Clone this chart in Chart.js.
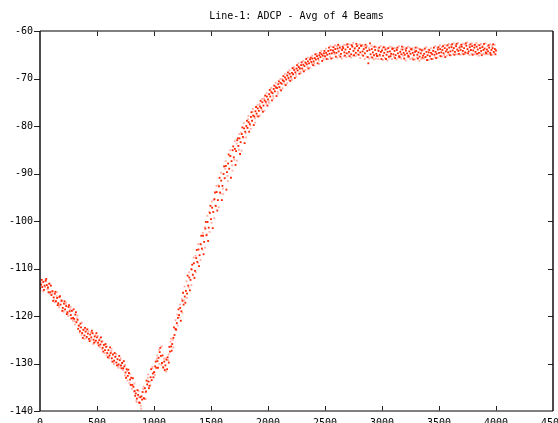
<!DOCTYPE html>
<html>
<head>
<meta charset="utf-8">
<script src="https://cdn.jsdelivr.net/npm/chart.js@4"></script>
<style>
html,body{margin:0;padding:0;background:#fff;overflow:hidden;width:558px;height:423px;}
canvas{display:block;}
</style>
</head>
<body>
<canvas id="c" width="558" height="426"></canvas>
<script>
const chartTitle = "Line-1: ADCP - Avg of 4 Beams";
const xTicks = [0, 500, 1000, 1500, 2000, 2500, 3000, 3500, 4000, 4500];
const yTicks = [-60, -70, -80, -90, -100, -110, -120, -130, -140];

// red samples: every 10 units starting at 0
const redStart = 0, redStep = 10;
const redValues = [
-114.2,-113.4,-113.9,-112.8,-113.6,-112.6,-113.5,-114.0,-113.2,-115.0,
-115.6,-114.8,-116.1,-115.3,-116.9,-116.2,-117.3,-116.0,-117.6,-116.8,
-118.3,-117.4,-118.6,-117.9,-119.2,-118.1,-119.0,-119.8,-118.9,-120.4,
-120.6,-119.7,-121.3,-120.8,-122.0,-123.2,-122.4,-123.6,-122.9,-124.1,
-123.3,-124.4,-123.7,-124.8,-123.9,-124.5,-123.6,-125.0,-124.3,-125.2,
-124.5,-125.6,-125.1,-126.0,-125.4,-126.7,-126.1,-127.2,-126.5,-127.8,
-127.2,-128.3,-127.8,-128.9,-128.1,-129.4,-128.6,-129.8,-129.1,-130.2,
-129.3,-130.4,-129.9,-131.0,-130.6,-131.9,-131.2,-132.6,-132.0,-133.4,
-133.0,-134.5,-134.9,-135.8,-136.3,-137.4,-136.6,-138.2,-137.1,-136.9,
-136.0,-137.3,-135.2,-135.9,-134.4,-133.8,-134.7,-132.9,-133.5,-132.1,
-131.8,-130.6,-130.9,-129.5,-128.8,-127.6,-128.4,-129.9,-130.8,-129.6,
-130.4,-129.2,-128.7,-129.8,-127.5,-126.4,-125.9,-124.6,-124.0,-122.7,
-121.5,-120.4,-119.8,-118.3,-119.0,-116.8,-117.6,-115.9,-114.7,-115.3,
-113.6,-111.9,-112.4,-110.2,-111.3,-108.9,-110.5,-107.8,-108.6,-106.0,
-107.2,-104.9,-105.8,-103.1,-104.4,-101.6,-103.0,-100.2,-101.4,-98.3,
-99.6,-97.2,-98.1,-95.4,-96.8,-93.9,-95.6,-92.7,-94.0,-91.5,
-92.6,-90.1,-91.0,-88.4,-89.7,-87.9,-89.0,-86.3,-87.4,-85.1,
-86.6,-84.8,-85.3,-83.0,-84.2,-82.6,-83.4,-81.7,-82.3,-80.5,
-81.2,-80.0,-80.4,-79.2,-79.6,-78.1,-78.9,-77.8,-78.0,-76.9,
-77.4,-76.3,-76.8,-75.9,-76.2,-75.0,-75.7,-74.6,-74.9,-73.8,
-74.4,-73.3,-73.8,-72.9,-73.1,-72.2,-72.7,-71.9,-72.0,-71.2,
-71.8,-70.9,-71.1,-70.4,-70.6,-69.8,-70.2,-69.4,-69.9,-69.0,
-69.6,-68.8,-69.1,-68.2,-68.7,-67.9,-68.3,-67.6,-67.9,-67.2,
-67.9,-67.1,-67.4,-66.7,-67.0,-66.4,-66.8,-66.0,-66.5,-65.8,
-66.4,-65.7,-66.0,-65.3,-65.8,-65.1,-65.5,-64.9,-65.2,-64.7,
-65.3,-64.6,-65.0,-64.2,-64.8,-64.0,-64.7,-64.1,-64.5,-63.8,
-64.6,-63.7,-64.3,-63.5,-64.8,-64.0,-63.6,-64.5,-63.9,-64.7,
-63.4,-64.4,-63.8,-64.9,-63.3,-64.2,-63.7,-64.6,-63.2,-64.1,
-63.6,-64.5,-63.1,-64.3,-63.8,-64.7,-63.5,-64.2,-66.8,-64.0,
-64.9,-63.8,-64.5,-65.1,-64.0,-64.8,-65.3,-64.2,-65.0,-64.4,
-64.1,-65.2,-64.6,-63.9,-65.0,-64.4,-65.4,-64.3,-64.8,-63.8,
-64.9,-64.2,-65.1,-64.0,-64.7,-65.3,-64.4,-64.9,-63.9,-64.6,
-65.0,-64.1,-64.7,-65.2,-64.3,-64.8,-63.9,-64.6,-65.1,-64.4,
-64.2,-65.0,-64.5,-65.4,-64.7,-64.1,-65.2,-64.8,-65.5,-64.4,
-65.1,-64.5,-65.3,-64.6,-64.9,-64.2,-65.0,-64.4,-64.8,-63.9,
-64.6,-63.8,-64.5,-64.0,-64.7,-63.6,-64.3,-63.9,-64.5,-63.5,
-64.3,-63.4,-64.1,-63.6,-64.4,-63.2,-63.9,-64.2,-63.5,-64.0,
-63.3,-64.2,-63.6,-64.5,-63.1,-63.8,-64.3,-63.4,-64.0,-63.2,
-64.1,-63.5,-64.4,-63.3,-63.9,-64.6,-63.6,-64.2,-63.4,-64.0,
-63.7,-64.5,-63.9,-64.3,-63.5,-64.6,-64.0,-63.6,-64.4,-63.8,
-64.1
];

// second red set: every 20 units starting at 15
const red2Start = 15, red2Step = 20;
const red2Values = [
-112.4,-114.5,-112.2,-115.0,-113.6,
-116.8,-114.9,-117.7,-115.8,-118.9,
-116.9,-119.6,-117.7,-120.5,-118.6,
-119.2,-122.7,-121.6,-124.6,-122.5,
-122.8,-125.3,-123.1,-125.6,-123.6,
-126.2,-124.5,-127.5,-125.9,-128.7,
-126.6,-129.6,-127.8,-130.4,-128.4,
-131.0,-129.5,-133.0,-131.3,-134.5,
-133.1,-136.8,-135.6,-138.3,-137.6,
-137.4,-133.6,-135.2,-131.2,-132.9,
-129.6,-130.9,-126.7,-128.3,-131.4,
-131.2,-126.5,-127.3,-122.4,-122.9,
-118.6,-121.0,-115.1,-117.2,-111.5,
-114.6,-109.2,-112.0,-106.1,-109.5,
-103.1,-107.0,-100.2,-104.2,-96.8,
-101.5,-94.0,-97.8,-90.9,-95.6,
-88.5,-93.4,-86.0,-90.9,-84.3,
-88.2,-82.6,-85.9,-80.3,-83.6,
-78.9,-81.2,-77.1,-79.8,-76.0,
-78.0,-74.7,-77.0,-73.6,-75.7,
-72.4,-74.6,-71.5,-73.7,-70.6,
-72.5,-69.5,-71.4,-68.7,-70.5,
-67.8,-69.9,-67.2,-69.0,-66.6,
-68.5,-65.9,-67.9,-65.6,-67.2,
-64.9,-66.8,-64.6,-66.3,-64.2,
-65.9,-63.5,-65.8,-63.4,-65.4,
-62.9,-65.4,-63.3,-65.2,-62.8,
-65.3,-63.0,-65.1,-62.7,-65.0,
-63.1,-65.2,-62.9,-65.5,-62.6,
-65.6,-63.3,-65.2,-63.5,-65.9,
-63.4,-65.9,-63.6,-65.3,-63.7,
-65.7,-63.5,-65.5,-63.3,-65.8,
-63.6,-65.4,-63.8,-66.0,-63.5,
-65.8,-63.9,-65.6,-63.7,-66.1,
-64.0,-65.9,-63.5,-65.7,-63.4,
-65.3,-63.2,-65.5,-63.0,-65.1,
-62.8,-65.0,-62.7,-64.8,-62.9,
-64.9,-62.6,-64.7,-62.8,-65.0,
-62.9,-64.8,-63.0,-65.1,-62.7,
-64.7,-63.0,-65.0,-62.8,-64.9
];

// pink samples: every 20 units starting at 5
const pinkStart = 5, pinkStep = 20;
const pinkValues = [
-114.6,-112.9,-113.9,-114.3,-115.3,
-114.7,-116.7,-115.8,-117.8,-116.9,
-118.9,-117.5,-119.5,-118.6,-120.6,
-121.1,-120.5,-122.2,-124.0,-122.9,
-124.7,-123.2,-125.0,-123.7,-125.5,
-125.8,-124.7,-127.0,-126.1,-128.3,
-128.6,-127.4,-129.7,-128.5,-130.5,
-130.6,-129.8,-132.5,-131.6,-134.1,
-134.6,-135.9,-137.8,-135.8,-138.9,
-135.4,-136.1,-133.0,-133.8,-130.7,
-131.9,-129.0,-127.1,-130.3,-131.0,
-128.9,-129.3,-125.4,-125.0,-122.8,
-119.7,-120.3,-116.4,-116.7,-112.7,
-114.0,-110.1,-111.5,-107.3,-108.8,
-104.8,-106.0,-101.3,-102.8,-98.1,
-100.4,-95.6,-96.9,-92.5,-94.2,
-93.2,-89.0,-90.5,-86.4,-88.3,
-87.1,-83.7,-85.0,-81.4,-82.5,
-81.5,-78.6,-79.9,-77.0,-78.4,
-77.9,-75.4,-76.6,-74.2,-75.3,
-74.8,-72.6,-73.7,-71.6,-72.8,
-72.3,-70.1,-71.2,-69.2,-70.3,
-70.0,-68.0,-69.1,-67.4,-68.6,
-68.3,-66.5,-67.6,-65.9,-66.9,
-66.8,-65.3,-66.2,-64.7,-65.8,
-65.6,-64.2,-65.4,-63.4,-64.9,
-63.2,-65.1,-63.8,-65.3,-63.0,
-64.8,-62.9,-65.2,-63.5,-64.9,
-62.8,-65.0,-63.3,-65.4,-63.6,
-65.5,-63.4,-65.8,-63.9,-65.3,
-63.6,-65.7,-63.8,-65.6,-63.4,
-65.4,-63.7,-65.6,-63.9,-65.2,
-63.8,-65.5,-63.5,-65.7,-64.0,
-65.6,-63.7,-65.9,-64.0,-65.4,
-63.9,-65.8,-64.1,-65.5,-63.6,
-65.2,-63.4,-65.1,-63.1,-64.9,
-63.0,-64.8,-62.9,-64.9,-63.2,
-64.7,-62.8,-64.6,-63.0,-64.8,
-63.0,-64.9,-62.9,-64.7,-63.1,
-64.9,-63.2,-64.8,-63.1,-64.6
];

// second pink set: every 20 units starting at 8
const pink2Start = 8, pink2Step = 20;
const pink2Values = [
-113.0,-114.8,-112.3,-114.4,-113.2,
-115.3,-117.1,-115.0,-118.2,-116.6,
-119.1,-117.2,-120.0,-118.1,-121.0,
-121.8,-119.9,-123.5,-121.4,-124.8,
-122.9,-124.9,-123.4,-125.9,-124.0,
-124.2,-126.6,-125.3,-127.8,-126.4,
-128.9,-126.9,-130.1,-128.0,-130.9,
-128.9,-131.4,-130.3,-133.6,-132.2,
-135.3,-134.2,-138.1,-137.0,-139.5,
-134.9,-137.5,-132.3,-134.6,-131.0,
-132.4,-128.3,-130.1,-126.4,-129.0,
-131.7,-128.1,-124.8,-126.6,-120.9,
-122.0,-117.6,-119.3,-113.8,-116.2,
-110.8,-113.5,-107.7,-110.8,-104.9,
-108.2,-102.5,-105.6,-98.9,-102.3,
-95.9,-99.4,-92.6,-97.1,-89.8,
-94.3,-87.4,-91.6,-85.1,-89.4,
-83.2,-87.3,-81.7,-85.2,-79.4,
-82.4,-77.9,-80.6,-76.4,-79.3,
-75.6,-77.8,-74.3,-76.8,-73.1,
-75.1,-72.0,-74.2,-70.9,-73.2,
-70.1,-72.1,-69.0,-71.0,-68.3,
-70.3,-67.6,-69.6,-66.8,-68.9,
-66.3,-68.2,-65.6,-67.7,-65.2,
-67.3,-64.8,-66.9,-64.2,-66.0,
-63.7,-65.9,-63.2,-65.7,-63.0,
-65.6,-63.1,-65.8,-62.9,-65.5,
-62.8,-65.6,-62.5,-65.3,-63.0,
-65.7,-62.9,-65.9,-63.2,-65.8,
-63.1,-66.0,-63.4,-65.9,-63.2,
-66.1,-63.5,-66.2,-63.3,-65.9,
-63.6,-66.0,-63.2,-65.8,-63.4,
-66.2,-63.3,-65.9,-63.6,-66.0,
-63.5,-66.3,-63.9,-65.8,-63.4,
-66.1,-63.6,-65.9,-63.2,-65.6,
-63.0,-65.4,-62.9,-65.2,-62.7,
-65.1,-62.6,-64.9,-62.5,-65.0,
-62.7,-64.8,-62.4,-65.1,-62.6,
-64.9,-62.5,-65.2,-62.7,-64.8,
-62.6,-64.9,-62.8,-65.0,-62.9
];

const toPoints = (vals, start, step) => vals.map((v, i) => ({x: start + i * step, y: v}));
const redPoints = toPoints(redValues, redStart, redStep);
const red2Points = toPoints(red2Values, red2Start, red2Step);
const pinkPoints = toPoints(pinkValues, pinkStart, pinkStep);
const pink2Points = toPoints(pink2Values, pink2Start, pink2Step);

const FONT = "'DejaVu Sans Mono', 'Liberation Mono', monospace";
const RED = 'rgb(255,36,0)';
const PINK = 'rgb(255,172,162)';

const framePlugin = {
  id: 'frame',
  afterDraw(chart) {
    const ctx = chart.ctx, a = chart.chartArea;
    const xs = chart.scales.x, ys = chart.scales.y;
    ctx.save();
    ctx.lineWidth = 1;
    ctx.strokeStyle = '#222';
    ctx.beginPath();
    xs.ticks.forEach(t => {
      const px = Math.round(xs.getPixelForValue(t.value)) + 0.5;
      if (px <= a.left + 1 || px >= a.right - 1) return;
      ctx.moveTo(px, a.bottom); ctx.lineTo(px, a.bottom - 5);
      ctx.moveTo(px, a.top); ctx.lineTo(px, a.top + 5);
    });
    ys.ticks.forEach(t => {
      const py = Math.round(ys.getPixelForValue(t.value)) + 0.5;
      ctx.moveTo(a.left - 6, py); ctx.lineTo(a.left, py);
      if (py > a.top + 1 && py < a.bottom - 1) {
        ctx.moveTo(a.right, py); ctx.lineTo(a.right - 5, py);
      }
    });
    ctx.stroke();
    ctx.lineWidth = 1.5;
    ctx.strokeStyle = '#555';
    ctx.beginPath();
    ctx.moveTo(a.left, a.top); ctx.lineTo(a.right, a.top);
    ctx.moveTo(a.left, a.bottom); ctx.lineTo(a.right, a.bottom);
    ctx.stroke();
    ctx.strokeStyle = '#111';
    ctx.beginPath();
    ctx.moveTo(a.left, a.top); ctx.lineTo(a.left, a.bottom);
    ctx.moveTo(a.right, a.top); ctx.lineTo(a.right, a.bottom);
    ctx.stroke();
    ctx.restore();
  }
};

const pointOpts = { borderWidth: 0, pointStyle: 'rect', pointRadius: 1.3, pointHoverRadius: 1.3 };

new Chart(document.getElementById('c'), {
  type: 'scatter',
  data: {
    datasets: [
      Object.assign({ label: 'red', data: redPoints, backgroundColor: RED }, pointOpts),
      Object.assign({ label: 'red2', data: red2Points, backgroundColor: RED }, pointOpts),
      Object.assign({ label: 'pink', data: pinkPoints, backgroundColor: PINK }, pointOpts),
      Object.assign({ label: 'pink2', data: pink2Points, backgroundColor: PINK }, pointOpts)
    ]
  },
  options: {
    responsive: false,
    animation: false,
    devicePixelRatio: 1,
    events: [],
    layout: { autoPadding: false, padding: { left: 0, right: 5, top: 0, bottom: 0 } },
    plugins: {
      legend: { display: false },
      tooltip: { enabled: false },
      title: {
        display: true, text: chartTitle, fullSize: false, color: '#000',
        font: { family: FONT, size: 10, weight: 'normal', lineHeight: 1.2 },
        padding: { top: 10, bottom: 9 }
      }
    },
    scales: {
      x: {
        type: 'linear', min: 0, max: 4500,
        afterBuildTicks(s) { s.ticks = xTicks.map(v => ({ value: v })); },
        afterFit(s) { s.height = 15; s.paddingLeft = 0; s.paddingRight = 0; },
        grid: { display: false, drawTicks: false },
        border: { display: false },
        ticks: { color: '#000', padding: 6, maxRotation: 0, autoSkip: false,
          callback: v => String(v),
          font: { family: FONT, size: 10 } }
      },
      y: {
        type: 'linear', min: -140, max: -60,
        afterBuildTicks(s) { s.ticks = yTicks.map(v => ({ value: v })); },
        afterFit(s) { s.width = 40; s.paddingTop = 0; s.paddingBottom = 0; },
        grid: { display: false, drawTicks: false },
        border: { display: false },
        ticks: { color: '#000', padding: 7, autoSkip: false,
          callback: v => String(v),
          font: { family: FONT, size: 10 } }
      }
    }
  },
  plugins: [framePlugin]
});
</script>
</body>
</html>
